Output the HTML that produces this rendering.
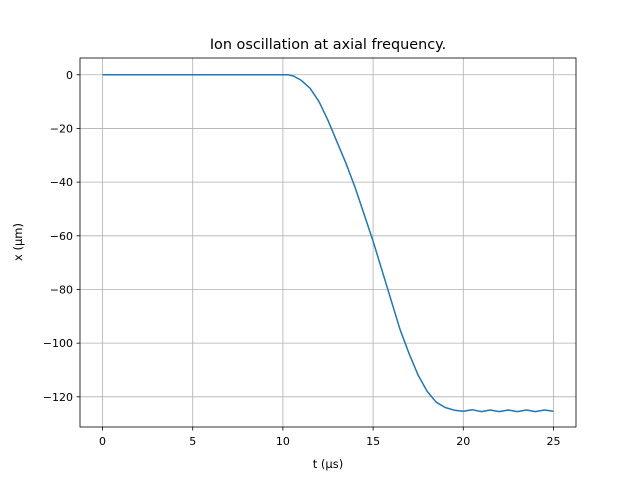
<!DOCTYPE html>
<html><head><meta charset="utf-8"><style>
body{margin:0;background:#fff}
svg text{font-family:"DejaVu Sans","Liberation Sans",sans-serif;fill:#000}
</style></head><body>
<svg id="chart" width="640" height="480">
<rect width="640" height="480" fill="#fff"/>
<g id="grid"></g>
<g id="ticks"></g>
<path id="line" fill="none" stroke="#1f77b4" stroke-width="1.5" stroke-linejoin="round"/>
<rect x="80" y="58" width="496" height="369" fill="none" stroke="#000" stroke-width="0.8"/>
<text x="328" y="49" font-size="14.4" text-anchor="middle">Ion oscillation at axial frequency.</text>
<text x="328" y="468" font-size="11.5" text-anchor="middle">t (µs)</text>
<text x="22" y="242" font-size="11.5" text-anchor="middle" transform="rotate(-90 22 242)">x (µm)</text>
</svg>
<script>
const tValues=[0,2,4,6,8,10,10.3,10.6,11,11.5,12,12.5,13,13.5,14,14.5,15,15.5,16,16.5,17,17.5,18,18.5,19,19.5,20,20.5,21,21.5,22,22.5,23,23.5,24,24.5,25];
const xValues=[0,0,0,0,0,0,0,-0.5,-2,-5,-10,-17,-25,-33,-42,-52,-62,-73,-84,-95,-104,-112,-118,-122,-124,-125,-125.4,-124.8,-125.5,-124.9,-125.5,-124.9,-125.5,-124.9,-125.5,-124.9,-125.4];
const xTicks=[0,5,10,15,20,25];
const yTicks=[0,-20,-40,-60,-80,-100,-120];
const L=80,R=576,T=58,B=427,xmin=-1.25,xmax=26.25,ymin=-131.25,ymax=6.25;
const sx=v=>L+(v-xmin)/(xmax-xmin)*(R-L);
const sy=v=>B-(v-ymin)/(ymax-ymin)*(B-T);
const NS='http://www.w3.org/2000/svg';
const grid=document.getElementById('grid'),ticks=document.getElementById('ticks');
function mk(tag,attrs,parent){const e=document.createElementNS(NS,tag);for(const k in attrs)e.setAttribute(k,attrs[k]);parent.appendChild(e);return e;}
xTicks.forEach(v=>{const x=sx(v);
 const g=mk('line',{x1:x,x2:x,y1:T,y2:B,stroke:'#b0b0b0','stroke-width':0.8},grid);
 
 
 const t=mk('line',{x1:x,x2:x,y1:B,y2:B+3.5,stroke:'#000','stroke-width':0.8},ticks);
 
 
 const l=mk('text',{x:x,y:B+18,'font-size':11,'text-anchor':'middle'},ticks);l.textContent=v;
 
 
});
yTicks.forEach(v=>{const y=sy(v);
 const g=mk('line',{x1:L,x2:R,y1:y,y2:y,stroke:'#b0b0b0','stroke-width':0.8},grid);
 
 
 const t=mk('line',{x1:L-3.5,x2:L,y1:y,y2:y,stroke:'#000','stroke-width':0.8},ticks);
 
 
 const l=mk('text',{x:L-7,y:y+4,'font-size':11,'text-anchor':'end'},ticks);l.textContent=v<0?'\u2212'+(-v):v;
 
 
});
document.getElementById('line').setAttribute('d',tValues.map((t,i)=>(i?'L':'M')+sx(t).toFixed(1)+','+sy(xValues[i]).toFixed(1)).join(''));
</script>
</body></html>
